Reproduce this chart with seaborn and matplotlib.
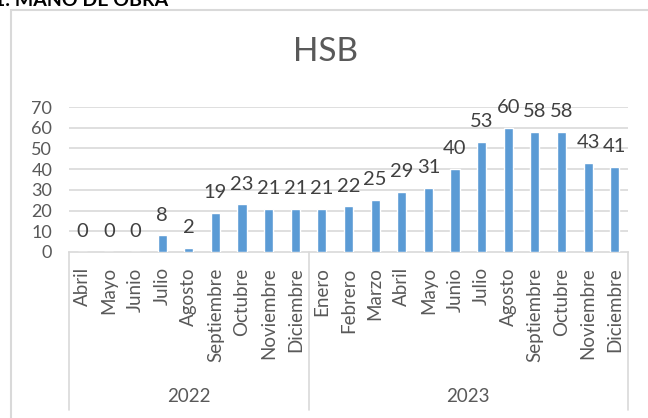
import matplotlib
matplotlib.use("Agg")
import matplotlib.pyplot as plt
import matplotlib.transforms as mtransforms
from matplotlib.patches import Rectangle
import seaborn as sns
import pandas as pd

# ─── DATA ─────────────────────────────────────────────────────────────
months = ['Abril', 'Mayo', 'Junio', 'Julio', 'Agosto', 'Septiembre', 'Octubre',
          'Noviembre', 'Diciembre',
          'Enero', 'Febrero', 'Marzo', 'Abril', 'Mayo', 'Junio', 'Julio', 'Agosto',
          'Septiembre', 'Octubre', 'Noviembre', 'Diciembre']
years = ['2022'] * 9 + ['2023'] * 12
values = [0, 0, 0, 8, 2, 19, 23, 21, 21,
          21, 22, 25, 29, 31, 40, 53, 60, 58, 58, 43, 41]
year_labels = ['2022', '2023']

df = pd.DataFrame({'month': months, 'year': years, 'value': values})
df['key'] = df['month'] + ' ' + df['year']

# ─── STYLE ────────────────────────────────────────────────────────────
sns.set_theme(style="white")
plt.rcParams['font.family'] = ['Lato', 'DejaVu Sans']
GREY_TXT = '#595959'
GRID = '#D9D9D9'
BAR = '#5B9BD5'

fig = plt.figure(figsize=(6.48, 4.18), dpi=100)
ax = fig.add_axes([69 / 648, (418 - 252) / 418, (628 - 69) / 648, (252 - 107) / 418])

sns.barplot(data=df, x='key', y='value', color=BAR, width=0.34,
            saturation=1, ax=ax, zorder=3)

ax.set_ylim(0, 70)
ax.set_xlim(-0.5, len(df) - 0.5)
ax.set_yticks(range(0, 71, 10))
for yv in range(10, 71, 10):
    ax.axhline(yv, color=GRID, lw=1.2, zorder=1)
ax.tick_params(axis='y', labelsize=13, labelcolor=GREY_TXT, length=0, pad=12)
ax.set_xticks(range(len(df)))
ax.set_xticklabels(df['month'], rotation=90, fontsize=13.5, color=GREY_TXT)
ax.tick_params(axis='x', length=0, pad=11)
ax.set_xlabel('')
ax.set_ylabel('')
for s in ['left', 'right', 'top']:
    ax.spines[s].set_visible(False)
ax.spines['bottom'].set_color(GRID)
ax.spines['bottom'].set_linewidth(1.2)

# data labels
for i, v in enumerate(df['value']):
    ax.annotate(str(v), (i, v), xytext=(0, 8.5), textcoords='offset points',
                ha='center', va='bottom', fontsize=14.5, color='#404040',
                zorder=4, annotation_clip=False)

# multi-level category axis: separators and year labels
trans = mtransforms.blended_transform_factory(ax.transData, fig.transFigure)
y_top = (418 - 252) / 418
y_bot = (418 - 410) / 418
n_first = years.count('2022')
for xv in [-0.5, n_first - 0.5, len(df) - 0.5]:
    ax.plot([xv, xv], [y_top, y_bot], transform=trans, color=GRID, lw=1.2,
            clip_on=False)
ax.text((n_first - 1) / 2, (418 - 396) / 418, year_labels[0], transform=trans,
        ha='center', va='center', fontsize=13.5, color=GREY_TXT)
ax.text((n_first + len(df) - 1) / 2, (418 - 396) / 418, year_labels[1],
        transform=trans, ha='center', va='center', fontsize=13.5, color=GREY_TXT)

# title
fig.text(325 / 648, 1 - 52 / 418, 'HSB', ha='center', va='center',
         fontsize=24, color=GREY_TXT)

# chart frame and clipped heading above it
fig.patches.append(Rectangle((11 / 648, -0.1), 1.2, 1 - 10 / 418 + 0.1,
                             transform=fig.transFigure, fill=False,
                             edgecolor=GRID, lw=1.5))
fig.text(-6 / 648, 1 - 6 / 418, '1. MANO DE OBRA', ha='left', va='baseline',
         fontsize=14, fontweight='bold', color='black')

fig.savefig('out.png', dpi=100)
